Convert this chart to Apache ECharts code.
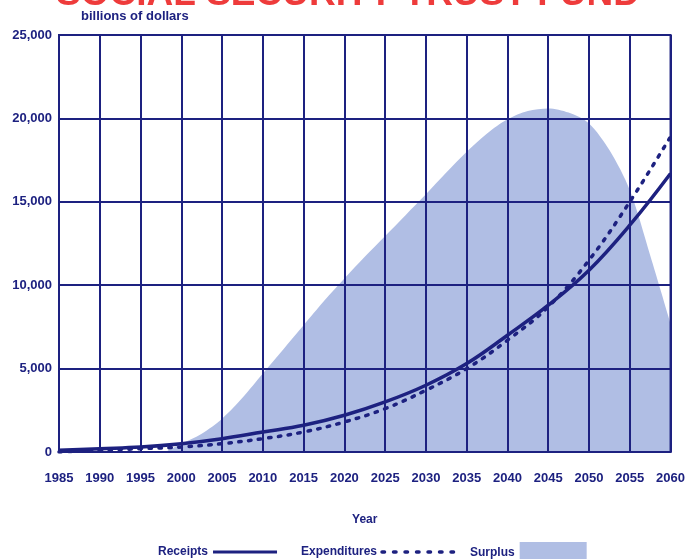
<!DOCTYPE html>
<html>
<head>
<meta charset="utf-8">
<script src="https://cdn.jsdelivr.net/npm/echarts@6/dist/echarts.min.js"></script>
<style>
  html, body { margin: 0; padding: 0; background: #fff; }
  #chart { width: 688px; height: 559px; }
</style>
</head>
<body>
<div id="chart"></div>
<script>
// values, billions of dollars
var years = [1985, 1990, 1995, 2000, 2005, 2010, 2015, 2020, 2025, 2030, 2035, 2040, 2045, 2050, 2055, 2060];
var receipts = [100, 200, 300, 500, 800, 1200, 1600, 2200, 3000, 4000, 5300, 7000, 8800, 10900, 13600, 16700];
var expenditures = [0, 100, 200, 300, 500, 800, 1200, 1800, 2600, 3700, 5000, 6700, 8700, 11500, 15000, 18900];

var surplusYears = [1998, 2000, 2002.5, 2005, 2007.5, 2010, 2012.5, 2015, 2017.5, 2020, 2022.5, 2025, 2027.5, 2030,
    2032.5, 2035, 2037.5, 2040, 2042.5, 2045, 2047.5, 2050, 2052.5, 2055, 2057.5, 2060];
var surplus = [0, 500, 1100, 2000, 3250, 4700, 6150, 7600, 9050, 10400, 11700, 12950, 14200, 15450,
    16750, 18000, 19100, 19950, 20450, 20600, 20350, 19700, 18100, 15700, 11800, 7700];

var NAVY = '#1d2180';
var SHADE = '#b0bee4';
var FONT = '"Liberation Sans", Arial, sans-serif';

function pairs(xs, ys){
    var out = [];
    for (var i = 0; i < xs.length; i++) {
        out.push([xs[i], ys[i]]);
    }
    return out;
}

var legendText = { color: NAVY, fontFamily: FONT, fontWeight: 'bold', fontSize: 12 };

var myChart = echarts.init(document.getElementById('chart'));
var option = {
    animation: false,
    backgroundColor: '#fff',
    graphic: [{
        // the page title, cut off by the top edge in the original
        type: 'text',
        x: 348,
        y: 13,
        style: {
            text: 'SOCIAL SECURITY TRUST FUND',
            fill: '#ee3b3b',
            font: 'bold 37px ' + FONT,
            align: 'center',
            verticalAlign: 'bottom'
        }
    }],
    grid: {
        left: 59, right: 17, top: 35, height: 417,
        show: true, borderColor: NAVY, borderWidth: 2, z: 4
    },
    legend: [{
        left: 153, top: 541, align: 'right',
        itemWidth: 64, itemHeight: 14,
        itemStyle: { opacity: 0 },
        lineStyle: { width: 3 },
        data: ['Receipts'], textStyle: legendText
    }, {
        left: 296, top: 541, align: 'right',
        itemWidth: 72, itemHeight: 14,
        itemStyle: { opacity: 0 },
        lineStyle: { width: 3.5, type: [2.5, 9], cap: 'round' },
        data: ['Expenditures'], textStyle: legendText
    }, {
        left: 465, top: 537, align: 'right',
        itemWidth: 67, itemHeight: 22,
        data: [{ name: 'Surplus', icon: 'rect' }], textStyle: legendText
    }],
    xAxis: {
        type: 'value',
        min: 1985, max: 2060, interval: 5,
        z: 3,
        name: 'Year',
        nameLocation: 'middle',
        nameGap: 62,
        nameTextStyle: { color: NAVY, fontFamily: FONT, fontWeight: 'bold', fontSize: 12 },
        axisLine: { show: true, lineStyle: { color: NAVY, width: 2 } },
        axisTick: { show: false },
        axisLabel: {
            margin: 20, color: NAVY, fontFamily: FONT, fontWeight: 'bold', fontSize: 13,
            formatter: function(v){ return String(v); }
        },
        splitLine: { show: true, lineStyle: { color: NAVY, width: 2 } }
    },
    yAxis: {
        type: 'value',
        min: 0, max: 25000, interval: 5000,
        z: 3,
        name: 'billions of dollars',
        nameLocation: 'end',
        nameGap: 12,
        nameTextStyle: {
            color: NAVY, fontFamily: FONT, fontWeight: 'bold', fontSize: 13,
            align: 'left', padding: [0, 0, 0, 22]
        },
        axisLine: { show: true, lineStyle: { color: NAVY, width: 2 } },
        axisTick: { show: false },
        axisLabel: { margin: 7, color: NAVY, fontFamily: FONT, fontWeight: 'bold', fontSize: 13 },
        splitLine: { show: true, lineStyle: { color: NAVY, width: 2 } }
    },
    series: [{
        name: 'Surplus',
        type: 'line',
        z: 2,
        smooth: 0.3,
        symbol: 'none',
        data: pairs(surplusYears, surplus),
        itemStyle: { color: SHADE },
        lineStyle: { width: 0 },
        areaStyle: { color: SHADE, opacity: 1 }
    }, {
        name: 'Receipts',
        type: 'line',
        z: 6,
        smooth: 0.4,
        symbol: 'none',
        data: pairs(years, receipts),
        itemStyle: { color: NAVY },
        lineStyle: { color: NAVY, width: 3.5 }
    }, {
        name: 'Expenditures',
        type: 'line',
        z: 6,
        smooth: 0.4,
        symbol: 'none',
        data: pairs(years, expenditures),
        itemStyle: { color: NAVY },
        lineStyle: { color: NAVY, width: 3.5, type: [2.5, 7.5], cap: 'round' }
    }]
};
myChart.setOption(option);
</script>
</body>
</html>
